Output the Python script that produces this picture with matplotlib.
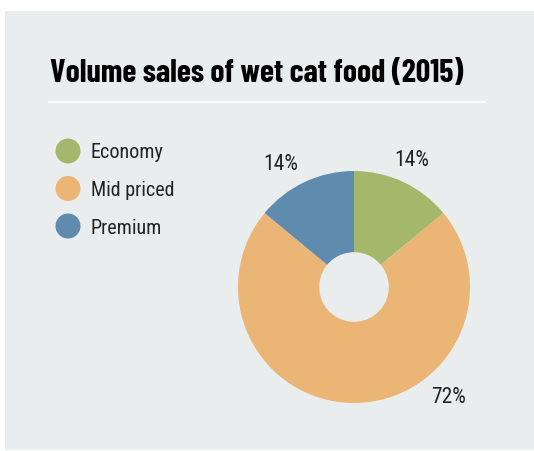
import matplotlib
matplotlib.use('Agg')
import matplotlib.pyplot as plt
from matplotlib.patches import Rectangle, Circle

# segment data
segments = ['Economy', 'Mid priced', 'Premium']
shares = [14, 72, 14]
colours = ['#a3b86b', '#ebb575', '#5f8bae']

PANEL = '#e9edee'
INK = '#222222'
TITLE_FONT = ['Barlow Condensed', 'Roboto Condensed', 'DejaVu Sans']
BODY_FONT = ['Roboto Condensed', 'Archivo Narrow', 'DejaVu Sans']

W, H = 534, 451
fig = plt.figure(figsize=(W / 100, H / 100), dpi=100)
fig.patch.set_facecolor('white')
ax = fig.add_axes([0, 0, 1, 1])

def Y(y):
    # page coordinates measured from the top
    return H - y

ax.add_patch(Rectangle((5, Y(450)), W - 5, 439, facecolor=PANEL, edgecolor='none', zorder=0))

ax.text(50, Y(82), 'Volume sales of wet cat food (2015)', family=TITLE_FONT, fontweight='bold',
        fontsize=23, color='black', ha='left', va='baseline')
ax.plot([49, 485], [Y(102), Y(102)], color='white', lw=1.2)

# legend with round swatches
for i, (name, c) in enumerate(zip(segments, colours)):
    yy = Y(151 + i * 37.5)
    ax.add_patch(Circle((68, yy), 12.5, facecolor=c, edgecolor='none'))
    ax.text(91, yy - 7.5, name, family=BODY_FONT, fontsize=14.5, color=INK,
            ha='left', va='baseline')

# donut
cx, cy, r = 354, Y(287), 116
ax.pie(shares, colors=colours, startangle=90, counterclock=False,
       center=(cx, cy), radius=r, frame=True,
       wedgeprops=dict(width=r * 0.7, edgecolor='none'))
ax.set_xlim(0, W)
ax.set_ylim(0, H)
ax.set_aspect('equal')
ax.axis('off')

label_pos = [(412, 166), (449, 403), (281, 170)]
for v, (lx, ly) in zip(shares, label_pos):
    ax.text(lx, Y(ly), f'{v}%', family=BODY_FONT, fontsize=15.5, color=INK,
            ha='center', va='baseline')

fig.savefig('out.png', dpi=100, facecolor='white')
